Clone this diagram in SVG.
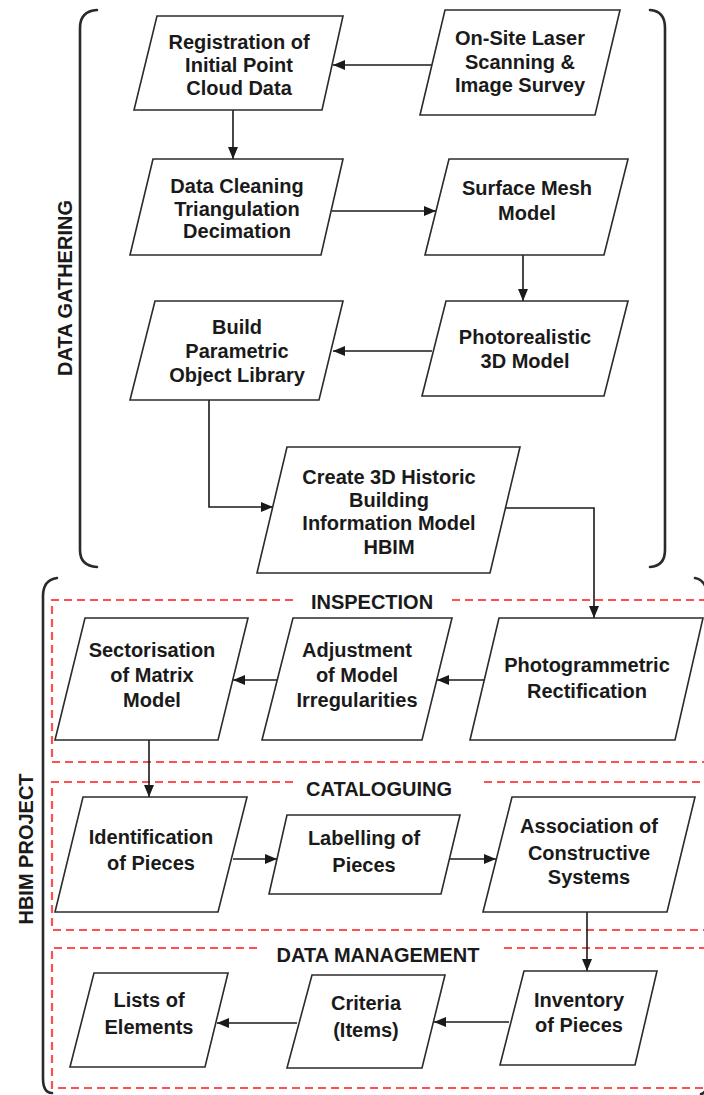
<svg xmlns="http://www.w3.org/2000/svg" width="704" height="1095" viewBox="0 0 704 1095">
  <style>
    .node { fill: #ffffff; stroke: #2b2b2b; stroke-width: 1.6; }
    .txt { font-family: "Liberation Sans", Arial, sans-serif; font-weight: bold; font-size: 20px; fill: #1a1a1a; text-anchor: middle; }
    .conn { fill: none; stroke: #1a1a1a; stroke-width: 1.6; marker-end: url(#arrow); }
    .bracket { fill: none; stroke: #2a2a2a; stroke-width: 2.6; stroke-linecap: round; }
    .zone { fill: none; stroke: #ff4f4f; stroke-width: 2.2; stroke-dasharray: 8 5; }
  </style>
  <defs>
    <marker id="arrow" viewBox="0 0 12 10" refX="12" refY="5" markerWidth="12" markerHeight="10" markerUnits="userSpaceOnUse" orient="auto">
      <path d="M0,0 L12,5 L0,10 Z" fill="#1a1a1a"/>
    </marker>
  </defs>

  <rect width="704" height="1095" fill="#ffffff"/>

  <!-- phase brackets -->
  <g id="phase-data-gathering">
    <path class="bracket" d="M97,10 Q80,11 80,28 V550 Q80,566 97,567"/>
    <path class="bracket" d="M650,10 Q665,11 665,28 V550 Q665,566 650,567"/>
    <text class="txt" transform="translate(72,288) rotate(-90)">DATA GATHERING</text>
  </g>
  <g id="phase-hbim-project">
    <path class="bracket" d="M57,578 Q43,580 43,596 V1078 Q43,1093 52,1093"/>
    <path class="bracket" d="M695,578 Q706,580 708,596"/>
    <path class="bracket" d="M708,1080 Q707,1093 701,1094"/>
    <text class="txt" transform="translate(33,849) rotate(-90)">HBIM PROJECT</text>
  </g>

  <!-- dashed work zones -->
  <g id="zone-inspection">
    <path class="zone" d="M293,600 H52 V762 H712 M452,600 H712"/>
    <text class="txt" x="372" y="609">INSPECTION</text>
  </g>
  <g id="zone-cataloguing">
    <path class="zone" d="M293,782 H52 V930 H712 M484,782 H712"/>
    <text class="txt" x="379" y="796">CATALOGUING</text>
  </g>
  <g id="zone-data-management">
    <path class="zone" d="M257,948 H52 V1088 H712 M504,948 H712"/>
    <text class="txt" x="378" y="962">DATA MANAGEMENT</text>
  </g>

  <!-- connectors -->
  <g id="connectors">
    <path class="conn" d="M432,65 H333"/>
    <path class="conn" d="M233,110 V159"/>
    <path class="conn" d="M332,211 H436"/>
    <path class="conn" d="M523,255 V301"/>
    <path class="conn" d="M432,351 H333"/>
    <path class="conn" d="M209,400 V507 H273"/>
    <path class="conn" d="M506,508 H594 V618"/>
    <path class="conn" d="M484,680 H437"/>
    <path class="conn" d="M277,680 H233"/>
    <path class="conn" d="M149,740 V797"/>
    <path class="conn" d="M233,859 H277"/>
    <path class="conn" d="M450,859 H496"/>
    <path class="conn" d="M587,912 V971"/>
    <path class="conn" d="M509,1022 H434"/>
    <path class="conn" d="M297,1023 H217"/>
  </g>

  <!-- nodes -->
  <g id="n-registration">
    <polygon class="node" points="157,16 343,16 322,110 134,110"/>
    <text class="txt" x="239" y="49">Registration of</text>
    <text class="txt" x="239" y="72">Initial Point</text>
    <text class="txt" x="239" y="95">Cloud Data</text>
  </g>
  <g id="n-laser-scanning">
    <polygon class="node" points="445,10 620,10 595,115 420,115"/>
    <text class="txt" x="520" y="45">On-Site Laser</text>
    <text class="txt" x="520" y="69">Scanning &amp;</text>
    <text class="txt" x="520" y="92">Image Survey</text>
  </g>
  <g id="n-data-cleaning">
    <polygon class="node" points="153,159 343,159 321,255 130,255"/>
    <text class="txt" x="237" y="193">Data Cleaning</text>
    <text class="txt" x="237" y="216">Triangulation</text>
    <text class="txt" x="237" y="238">Decimation</text>
  </g>
  <g id="n-surface-mesh">
    <polygon class="node" points="449,159 628,159 604,255 425,255"/>
    <text class="txt" x="527" y="195">Surface Mesh</text>
    <text class="txt" x="527" y="220">Model</text>
  </g>
  <g id="n-photorealistic">
    <polygon class="node" points="446,301 628,301 604,396 422,396"/>
    <text class="txt" x="525" y="344">Photorealistic</text>
    <text class="txt" x="525" y="368">3D Model</text>
  </g>
  <g id="n-object-library">
    <polygon class="node" points="155,301 343,301 319,400 130,400"/>
    <text class="txt" x="237" y="334">Build</text>
    <text class="txt" x="237" y="358">Parametric</text>
    <text class="txt" x="237" y="382">Object Library</text>
  </g>
  <g id="n-hbim-model">
    <polygon class="node" points="287,447 520,447 490,573 257,573"/>
    <text class="txt" x="389" y="484">Create 3D Historic</text>
    <text class="txt" x="389" y="507">Building</text>
    <text class="txt" x="389" y="530">Information Model</text>
    <text class="txt" x="389" y="554">HBIM</text>
  </g>
  <g id="n-rectification">
    <polygon class="node" points="499,618 703,618 675,740 470,740"/>
    <text class="txt" x="587" y="672">Photogrammetric</text>
    <text class="txt" x="587" y="698">Rectification</text>
  </g>
  <g id="n-adjustment">
    <polygon class="node" points="293,618 452,618 422,740 262,740"/>
    <text class="txt" x="357" y="657">Adjustment</text>
    <text class="txt" x="357" y="682">of Model</text>
    <text class="txt" x="357" y="707">Irregularities</text>
  </g>
  <g id="n-sectorisation">
    <polygon class="node" points="85,618 248,618 218,740 55,740"/>
    <text class="txt" x="152" y="657">Sectorisation</text>
    <text class="txt" x="152" y="682">of Matrix</text>
    <text class="txt" x="152" y="707">Model</text>
  </g>
  <g id="n-identification">
    <polygon class="node" points="83,797 247,797 218,912 55,912"/>
    <text class="txt" x="151" y="844">Identification</text>
    <text class="txt" x="151" y="870">of Pieces</text>
  </g>
  <g id="n-labelling">
    <polygon class="node" points="287,815 460,815 441,894 269,894"/>
    <text class="txt" x="364" y="845">Labelling of</text>
    <text class="txt" x="364" y="872">Pieces</text>
  </g>
  <g id="n-association">
    <polygon class="node" points="512,797 695,797 667,912 483,912"/>
    <text class="txt" x="589" y="833">Association of</text>
    <text class="txt" x="589" y="860">Constructive</text>
    <text class="txt" x="589" y="884">Systems</text>
  </g>
  <g id="n-inventory">
    <polygon class="node" points="524,971 657,971 635,1065 500,1065"/>
    <text class="txt" x="579" y="1007">Inventory</text>
    <text class="txt" x="579" y="1032">of Pieces</text>
  </g>
  <g id="n-criteria">
    <polygon class="node" points="312,975 445,975 422,1068 287,1068"/>
    <text class="txt" x="366" y="1010">Criteria</text>
    <text class="txt" x="366" y="1037">(Items)</text>
  </g>
  <g id="n-lists">
    <polygon class="node" points="94,973 228,973 205,1067 70,1067"/>
    <text class="txt" x="149" y="1007">Lists of</text>
    <text class="txt" x="149" y="1034">Elements</text>
  </g>
</svg>
